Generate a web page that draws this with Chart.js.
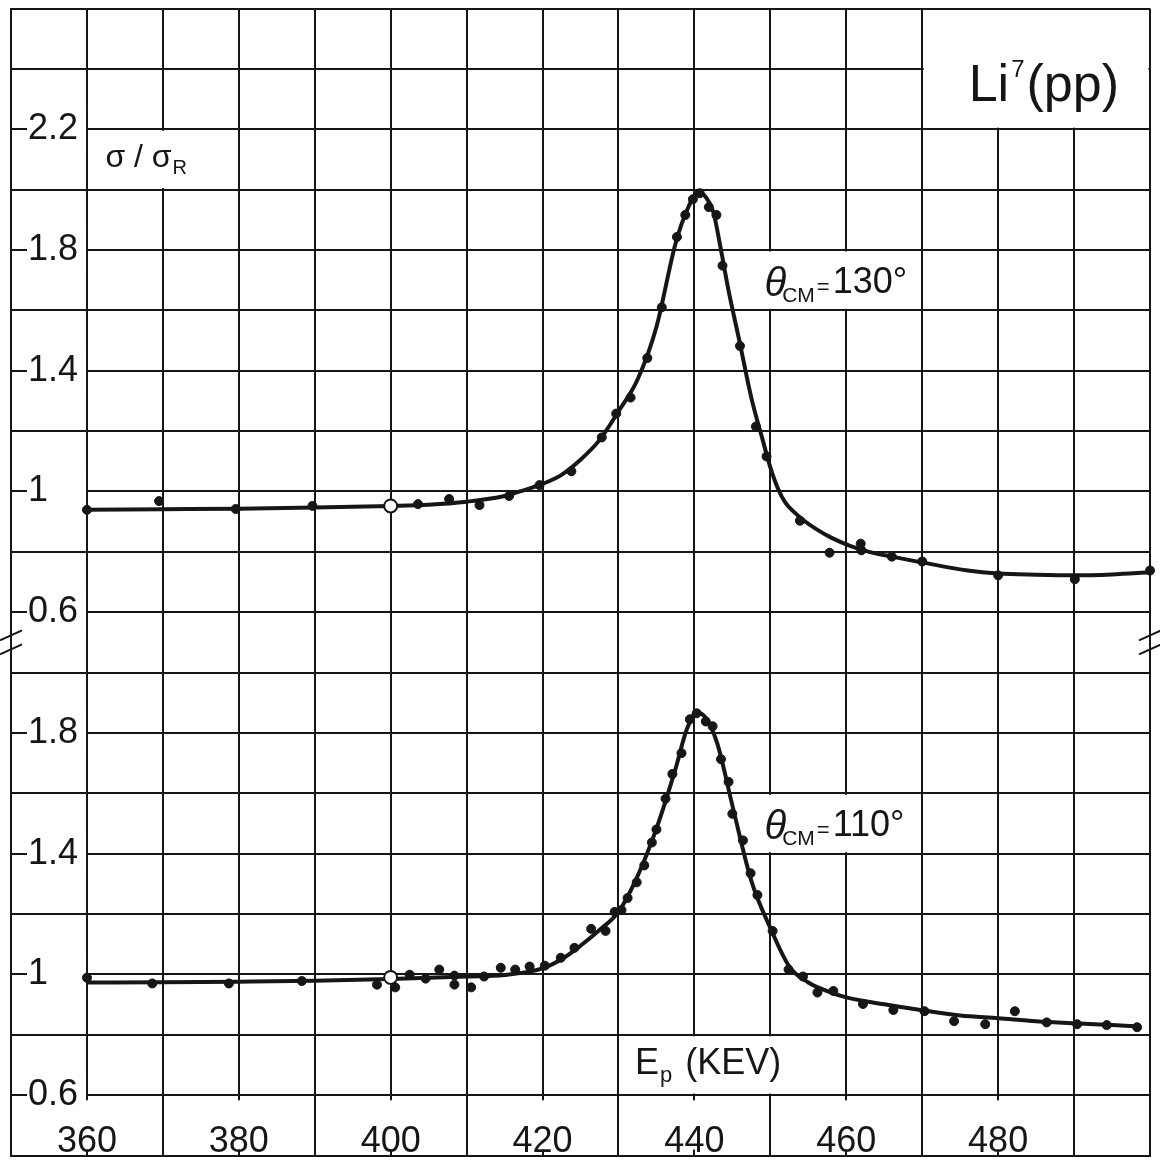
<!DOCTYPE html>
<html>
<head>
<meta charset="utf-8">
<title>Li7(pp) elastic scattering</title>
<script src="https://cdn.jsdelivr.net/npm/chart.js@4.4.1/dist/chart.umd.min.js"></script>
<style>
  html, body { margin: 0; padding: 0; background: #fff; }
  canvas { display: block; }
</style>
</head>
<body>
<canvas id="myChart" width="1160" height="1164"></canvas>
<script>
// theta_cm = 130 deg : proton energy (keV) and sigma / sigma_R
const energy130 = [360, 369.5, 379.6, 389.7, 403.6, 407.7, 411.7, 415.6, 419.6, 423.8,
  427.8, 429.7, 431.6, 433.8, 435.7, 437.7, 438.8, 439.8, 440.7, 441.9,
  442.9, 443.7, 446.0, 448.1, 449.5, 453.9, 457.8, 461.9, 462.0, 466.0,
  470.0, 480.0, 490.1, 500];
const ratio130 = [0.939, 0.968, 0.942, 0.952, 0.958, 0.975, 0.955, 0.985, 1.021, 1.067,
  1.179, 1.258, 1.311, 1.442, 1.610, 1.843, 1.916, 1.968, 1.988, 1.942,
  1.916, 1.748, 1.482, 1.215, 1.116, 0.903, 0.797, 0.827, 0.805, 0.784,
  0.768, 0.722, 0.709, 0.738];
const openE130 = [400];
const openR130 = [0.952];
// smooth curve drawn through the 130 deg points
const curveE130 = [360, 370, 380, 390, 400, 405, 410, 415, 417, 420, 422.5, 425, 427.5,
  430, 432.5, 435, 437.5, 439, 440.5, 441.5, 442.5, 443.5, 444.5, 446, 447.5, 449,
  450, 451, 452, 453, 454.5, 456, 458, 460.5, 463, 466, 470, 476, 480, 485, 490, 495, 500];
const curveR130 = [0.939, 0.941, 0.943, 0.947, 0.952, 0.956, 0.966, 0.985, 1.0, 1.025, 1.055, 1.105, 1.17,
  1.265, 1.37, 1.545, 1.82, 1.93, 1.99, 1.975, 1.925, 1.8, 1.665, 1.49, 1.31, 1.17,
  1.08, 1.01, 0.962, 0.935, 0.902, 0.876, 0.847, 0.82, 0.8, 0.784, 0.765, 0.738, 0.728, 0.724, 0.722, 0.725, 0.732];

// theta_cm = 110 deg
const energy110 = [360, 368.6, 378.7, 388.3, 398.2, 400.6, 402.5, 404.6, 406.4, 408.4,
  408.4, 410.6, 412.3, 414.5, 416.4, 418.3, 420.3, 422.4, 424.2, 426.4,
  428.3, 429.5, 430.4, 431.2, 432.4, 433.4, 434.4, 435.0, 436.2, 437.1,
  438.3, 439.4, 440.3, 441.5, 442.4, 443.5, 444.5, 445.0, 446.4, 447.4,
  448.3, 450.3, 452.4, 454.3, 456.2, 458.3, 462.2, 466.2, 470.3, 474.2,
  478.3, 482.2, 486.4, 490.4, 494.3, 498.3];
const ratio110 = [0.989, 0.970, 0.970, 0.978, 0.966, 0.957, 0.999, 0.986, 1.016, 0.996,
  0.966, 0.957, 0.993, 1.022, 1.016, 1.026, 1.029, 1.055, 1.088, 1.151,
  1.144, 1.207, 1.213, 1.253, 1.305, 1.361, 1.437, 1.480, 1.582, 1.664,
  1.733, 1.845, 1.865, 1.838, 1.822, 1.713, 1.638, 1.532, 1.444, 1.335,
  1.263, 1.144, 1.016, 0.993, 0.940, 0.945, 0.902, 0.882, 0.878, 0.845,
  0.835, 0.878, 0.841, 0.835, 0.832, 0.825];
const openE110 = [400];
const openR110 = [0.99];
const curveE110 = [360, 370, 380, 390, 400, 410, 415, 420, 422.5, 425, 427.5, 430, 432.5,
  435, 437.5, 439, 440.3, 441.5, 443, 445, 447.5, 450, 452.5, 455, 458, 460, 465,
  470, 475, 480, 485, 490, 495, 498.5];
const curveR110 = [0.973, 0.974, 0.976, 0.979, 0.985, 0.993, 0.998, 1.02, 1.05, 1.095, 1.147, 1.207, 1.325,
  1.483, 1.68, 1.812, 1.868, 1.85, 1.766, 1.56, 1.31, 1.154, 1.026, 0.973, 0.94, 0.924, 0.901,
  0.881, 0.864, 0.855, 0.845, 0.838, 0.832, 0.828];

// tick labels
const xLabels = [360, 380, 400, 420, 440, 460, 480];
const yLabels110 = [0.6, 1, 1.4, 1.8];
const yLabels130 = [0.6, 1, 1.4, 1.8, 2.2];

// both panels share one y axis; the 130 deg panel is lifted by SHIFT
const SHIFT = 1.6;

const FONT = '"Liberation Sans", "DejaVu Sans", sans-serif';
const INK = '#161616';
Chart.defaults.font.family = FONT;

const near = (a, b) => Math.abs(a - b) < 1e-6;
// "1" gets trailing figure/punctuation spaces so its white backdrop is as wide as "1.4"
const fmt = v => {
  const s = String(Math.round(v * 10) / 10);
  return s.length === 1 ? s + '\u2008\u2007' : s;
};
const pts = (xs, ys, dy) => xs.map((x, i) => ({ x: x, y: ys[i] + dy }));

function yLabel(v) {
  if (v < SHIFT + 0.5) {
    return yLabels110.some(t => near(t, v)) ? fmt(v) : '';
  }
  const u = v - SHIFT;
  return yLabels130.some(t => near(t, u)) ? fmt(u) : '';
}

const hasLabel = c => !!(c.tick && c.tick.label);

function whiteBox(chart, x0, x1, y0, y1) {
  const { ctx, scales: { x, y } } = chart;
  const l = x.getPixelForValue(x0) + 1.5, r = x.getPixelForValue(x1) - 1.5;
  const t = y.getPixelForValue(y1) + 1.5, b = y.getPixelForValue(y0) - 1.5;
  ctx.fillStyle = '#fff';
  ctx.fillRect(l, t, r - l, b - t);
  ctx.fillStyle = INK;
  return { l, r, t, b };
}

function put(ctx, text, px, py, size, style) {
  ctx.font = (style || '') + ' ' + size + 'px ' + FONT;
  ctx.fillText(text, px, py);
  return px + ctx.measureText(text).width;
}

function thetaLabel(ctx, box, angle) {
  let px = box.l + 4;
  px = put(ctx, 'θ', px, box.b - 13, 40, 'italic');
  px = put(ctx, 'CM', px - 4, box.b - 7, 21);
  px = put(ctx, '=', px + 2, box.b - 15, 22);
  put(ctx, angle, px + 3, box.b - 16, 36);
}

const notes = {
  id: 'notes',
  beforeDraw(chart) {
    const { ctx, width, height } = chart;
    ctx.save();
    ctx.fillStyle = '#fff';
    ctx.fillRect(0, 0, width, height);
    ctx.restore();
  },
  beforeDatasetsDraw(chart) {
    const ctx = chart.ctx;
    ctx.save();
    ctx.textBaseline = 'alphabetic';
    ctx.textAlign = 'left';

    let b = whiteBox(chart, 470, 500, 3.8, 4.2);
    let px = put(ctx, 'Li', b.l + 45, b.b - 27, 52);
    px = put(ctx, '7', px + 2, b.b - 51, 24);
    put(ctx, '(pp)', px + 2, b.b - 27, 52);

    b = whiteBox(chart, 360, 380, 3.6, 3.8);
    px = put(ctx, 'σ / σ', b.l + 17, b.b - 21, 32);
    put(ctx, 'R', px + 1, b.b - 14, 20);

    thetaLabel(ctx, whiteBox(chart, 448.5, 470, 3.2, 3.4), '130°');
    thetaLabel(ctx, whiteBox(chart, 448.5, 470, 1.4, 1.6), '110°');

    b = whiteBox(chart, 430, 453, 0.6, 0.8);
    px = put(ctx, 'E', b.l + 15, b.b - 20, 36);
    px = put(ctx, 'p', px + 1, b.b - 12, 22);
    put(ctx, '(KEV)', px + 13, b.b - 20, 36);
    ctx.restore();
  },
  afterDraw(chart) {
    // axis-break marks on both frame edges
    const { ctx, chartArea, scales: { y } } = chart;
    const cy = y.getPixelForValue(SHIFT + 0.5);
    ctx.save();
    ctx.strokeStyle = INK;
    ctx.lineWidth = 2;
    [chartArea.left, chartArea.right].forEach(cx => {
      [-7, 7].forEach(dy => {
        ctx.beginPath();
        ctx.moveTo(cx - 11, cy + dy + 5);
        ctx.lineTo(cx + 11, cy + dy - 5);
        ctx.stroke();
      });
    });
    ctx.restore();
  }
};

const dots = { showLine: false, pointRadius: 4.5, pointBackgroundColor: INK, pointBorderColor: INK, pointBorderWidth: 1, clip: false };
const openDot = { showLine: false, pointRadius: 6.5, pointBackgroundColor: '#fff', pointBorderColor: INK, pointBorderWidth: 2, clip: false };
const curve = { showLine: true, pointRadius: 0, borderColor: INK, borderWidth: 4, cubicInterpolationMode: 'monotone', fill: false };

new Chart(document.getElementById('myChart'), {
  type: 'scatter',
  data: {
    datasets: [
      Object.assign({ label: '130° open', data: pts(openE130, openR130, SHIFT) }, openDot),
      Object.assign({ label: '110° open', data: pts(openE110, openR110, 0) }, openDot),
      Object.assign({ label: '130°', data: pts(energy130, ratio130, SHIFT) }, dots),
      Object.assign({ label: '110°', data: pts(energy110, ratio110, 0) }, dots),
      Object.assign({ label: '130° curve', data: pts(curveE130, curveR130, SHIFT) }, curve),
      Object.assign({ label: '110° curve', data: pts(curveE110, curveR110, 0) }, curve)
    ]
  },
  options: {
    responsive: false,
    animation: false,
    events: [],
    layout: { padding: { left: 11, right: 10, top: 7, bottom: 2 } },
    plugins: { legend: { display: false }, tooltip: { enabled: false } },
    scales: {
      x: {
        type: 'linear',
        position: 'bottom',
        min: 350,
        max: 500,
        afterFit: s => { s.height = 0; s.paddingLeft = 0; s.paddingRight = 0; },
        grid: { color: INK, lineWidth: 2, drawTicks: false },
        border: { color: INK, width: 2 },
        ticks: {
          stepSize: 10,
          autoSkip: false,
          maxRotation: 0,
          minRotation: 0,
          mirror: true,
          padding: -8,
          color: INK,
          font: { size: 36 },
          callback: v => xLabels.some(t => near(t, v)) ? String(v) : '',
          showLabelBackdrop: hasLabel,
          backdropColor: '#fff',
          backdropPadding: { top: 20, bottom: -14, left: 3, right: 3 }
        }
      },
      y: {
        type: 'linear',
        position: 'left',
        min: 0.4,
        max: 4.2,
        afterFit: s => { s.width = 0; s.paddingTop = 0; s.paddingBottom = 0; },
        grid: { color: INK, lineWidth: 2, drawTicks: false },
        border: { color: INK, width: 2 },
        ticks: {
          stepSize: 0.2,
          autoSkip: false,
          mirror: true,
          crossAlign: 'near',
          padding: 17,
          color: INK,
          font: { size: 36 },
          callback: yLabel,
          showLabelBackdrop: hasLabel,
          backdropColor: '#fff',
          backdropPadding: { left: 1, right: 8, top: 2, bottom: 2 }
        }
      }
    }
  },
  plugins: [notes]
});
</script>
</body>
</html>
